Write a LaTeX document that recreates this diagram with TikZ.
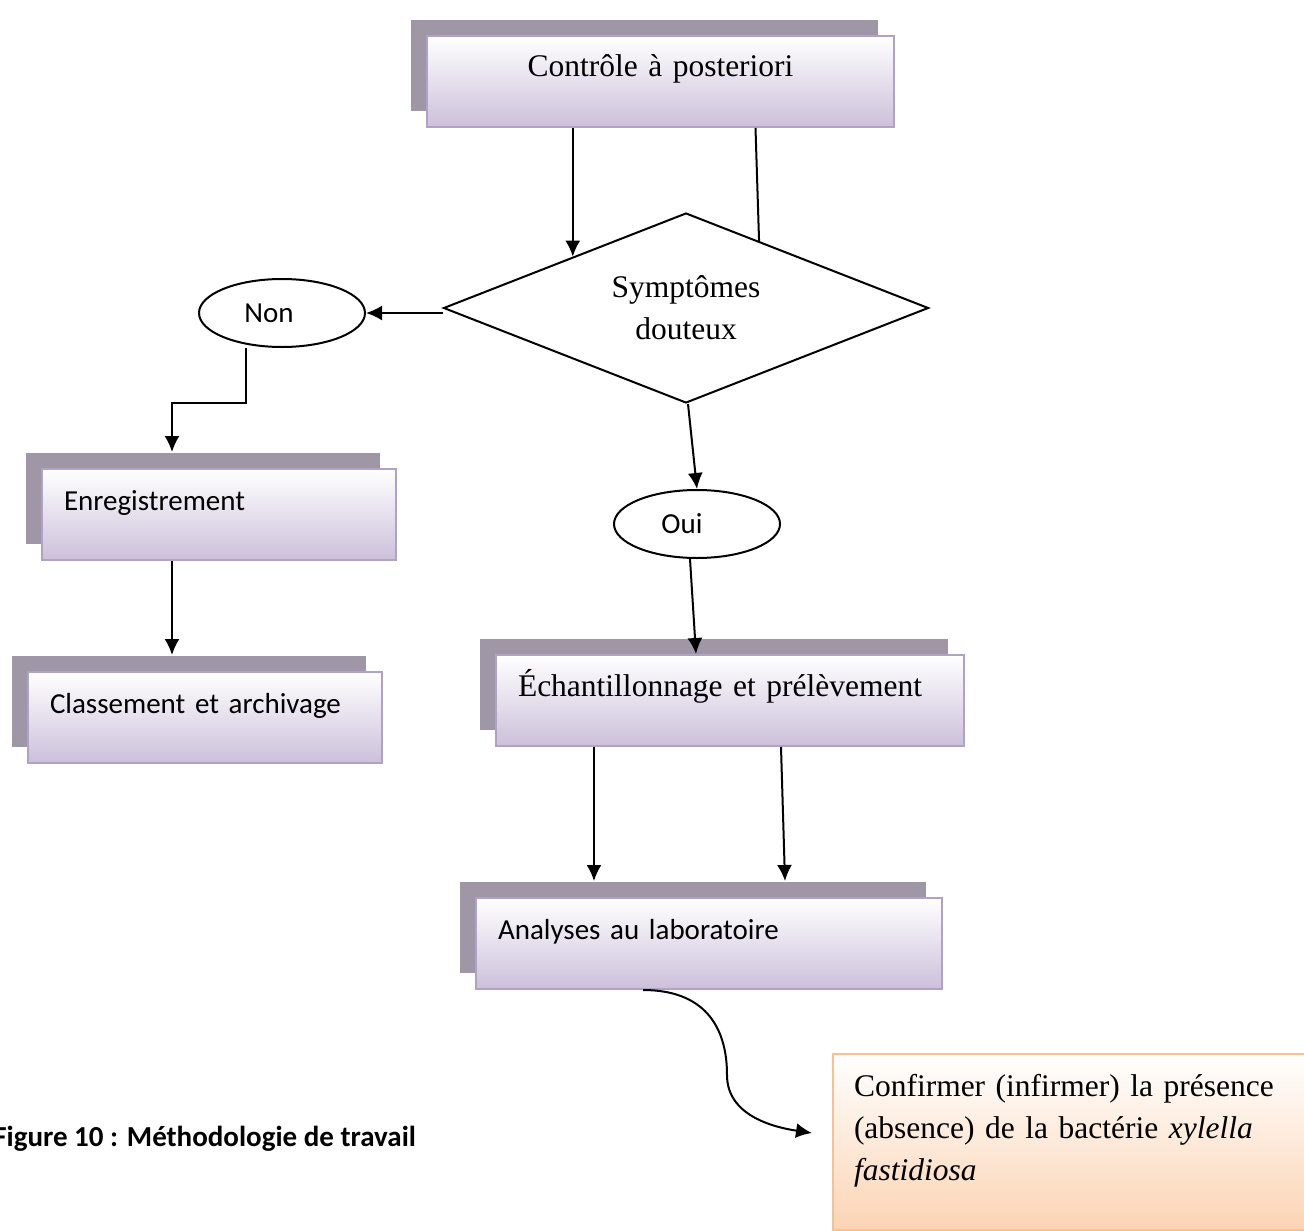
\documentclass[tikz,border=0pt]{standalone}
\usepackage{fontspec}
\setmainfont{Liberation Serif}
\newfontfamily\calibri{Carlito}
\usetikzlibrary{shapes.geometric,shadows,arrows.meta,calc}

\definecolor{shadowgray}{RGB}{159,150,166}
\definecolor{boxline}{RGB}{178,161,199}
\definecolor{boxlow}{RGB}{204,192,218}
\definecolor{resline}{RGB}{250,192,143}
\definecolor{reslow}{RGB}{251,212,180}

\newcommand\serifsize{\fontsize{31.5}{42}\selectfont}
\newcommand\sanssize{\calibri\fontsize{29}{35}\selectfont}

\tikzset{
  stepbox/.style={rectangle, draw=boxline, line width=2pt, top color=white, bottom color=boxlow,
    general shadow={fill=shadowgray, shadow xshift=-16pt, shadow yshift=16pt},
    inner xsep=22pt, inner ysep=0pt, text height=41pt, text depth=50pt, anchor=north west},
  answer/.style={ellipse, draw, line width=2pt, minimum width=166pt, minimum height=68pt,
    inner sep=0pt, font=\sanssize},
  resultbox/.style={rectangle, draw=resline, line width=2pt, top color=white, bottom color=reslow,
    inner xsep=21pt, inner ysep=0pt, text width=430pt, align=left, text height=42pt,
    text depth=134pt, anchor=north west, font=\serifsize}
}

\begin{document}
\begin{tikzpicture}[x=1pt, y=-1pt, >={Latex[length=16pt,width=15pt]}, line width=2pt]
\useasboundingbox (0,0) rectangle (1304,1231);

\node[stepbox, text width=423pt, align=center, font=\serifsize] (ctrl) at (426,35) {Contrôle à posteriori};
\node[diamond, draw, aspect=3, minimum width=485pt, minimum height=190pt, inner sep=0pt,
  align=center, font=\serifsize] (sympt) at (686,308) {Symptômes\\douteux};
\node[answer] (non) at (282,313) {Non\hspace*{26pt}};
\node[answer] (oui) at (697,524) {Oui\hspace*{30pt}};

\node[stepbox, text width=310pt, align=left, font=\sanssize] (enreg) at (41,468) {Enregistrement};
\node[stepbox, text width=310pt, align=left, font=\sanssize] (classe) at (27,671) {Classement et archivage};
\node[stepbox, text width=424pt, align=left, font=\serifsize] (echant) at (495,654) {Échantillonnage et prélèvement};
\node[stepbox, text width=422pt, align=left, font=\sanssize] (analyse) at (475,897) {Analyses au laboratoire};

\node[resultbox] (result) at (832,1053) {Confirmer (infirmer) la présence\\(absence) de la bactérie \textit{xylella}\\\textit{fastidiosa}};

\node[anchor=base west, font=\calibri\bfseries\fontsize{29}{35}\selectfont] (caption) at (-11,1146) {Figure 10 : Méthodologie de travail};

\coordinate (inleft) at ($(sympt.west)!0.535!(sympt.north)$);
\coordinate (inright) at ($(sympt.north)!0.3!(sympt.east)$);
\coordinate (bend) at (727,1075);

\draw[->] (ctrl.south -| inleft) -- (inleft);
\draw ([xshift=95pt]ctrl.south) -- (inright);
\draw[->] (non.east -| sympt.west) -- (non.east);
\draw[->] ([xshift=-36pt]non.south) -- ++(0,55) -| ([xshift=-47pt,yshift=16pt]enreg.north);
\draw[->] ([xshift=-47pt]enreg.south) -- ([xshift=-33pt,yshift=16pt]classe.north);
\draw[->] ([xshift=2pt]sympt.south) -- (oui.north);
\draw[->] ([xshift=-7pt]oui.south) -- ([xshift=-34pt]echant.north);
\draw[->] ([xshift=-136pt]echant.south) -- ([xshift=-115pt,yshift=16pt]analyse.north);
\draw[->] ([xshift=51pt]echant.south) -- ([xshift=76pt,yshift=16pt]analyse.north);
\draw[->] ([xshift=-66pt]analyse.south) .. controls +(60,0) and +(0,-50) .. (bend)
  .. controls +(0,40) and +(-40,-6) .. ([xshift=-20pt,yshift=9pt]result.west);

\end{tikzpicture}
\end{document}
